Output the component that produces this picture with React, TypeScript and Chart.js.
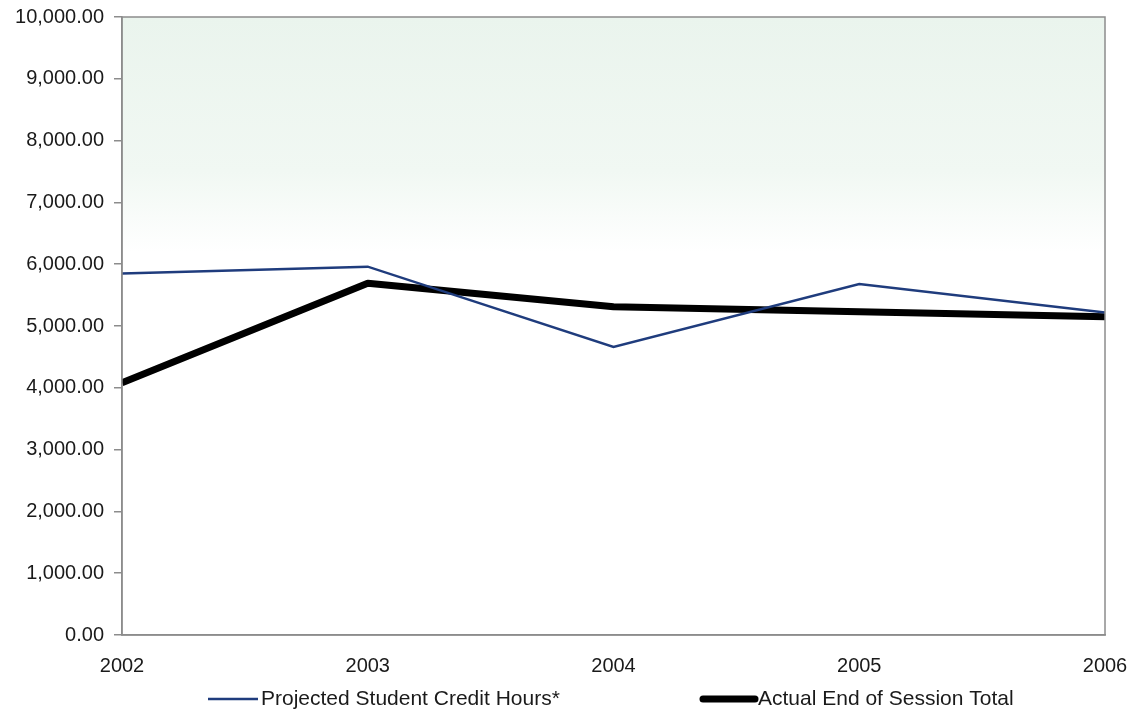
import React, { useEffect, useRef } from "react";
import { Chart, registerables } from "chart.js";

Chart.register(...registerables);

const years = ["2002", "2003", "2004", "2005", "2006"];
const projected = [5850, 5960, 4660, 5680, 5220];
const actual = [4080, 5690, 5310, 5230, 5150];
const seriesNames = ["Projected Student Credit Hours*", "Actual End of Session Total"];
const yTicks = [0, 1000, 2000, 3000, 4000, 5000, 6000, 7000, 8000, 9000, 10000];

const FONT = "'Liberation Sans', Arial, sans-serif";
const AXIS = "#8c8c8c";
const TEXT = "#1a1a1a";

const bgPlugin = {
  id: "bgPlugin",
  beforeDraw(chart: any) {
    const { ctx, chartArea: a } = chart;
    ctx.save();
    const g = ctx.createLinearGradient(0, a.top, 0, a.bottom);
    g.addColorStop(0, "#eaf4ed");
    g.addColorStop(0.25, "#f1f8f3");
    g.addColorStop(0.38, "#ffffff");
    g.addColorStop(1, "#ffffff");
    ctx.fillStyle = g;
    ctx.fillRect(a.left, a.top, a.right - a.left, a.bottom - a.top);
    ctx.restore();
  },
  afterDraw(chart: any) {
    const { ctx, chartArea: a } = chart;
    ctx.save();
    ctx.strokeStyle = AXIS;
    ctx.lineWidth = 1.5;
    ctx.strokeRect(a.left, a.top, a.right - a.left, a.bottom - a.top);
    // legend
    const items = [
      { x: a.left + 86, color: "#1f3c7d", width: 2.5, len: 50, cap: "butt" },
      { x: a.left + 581, color: "#000000", width: 7, len: 52, cap: "round" },
    ];
    const y = 699;
    ctx.font = `21px ${FONT}`;
    ctx.textBaseline = "middle";
    ctx.fillStyle = TEXT;
    items.forEach((it, i) => {
      ctx.beginPath();
      ctx.strokeStyle = it.color;
      ctx.lineWidth = it.width;
      ctx.lineCap = it.cap as CanvasLineCap;
      ctx.moveTo(it.x, y);
      ctx.lineTo(it.x + it.len, y);
      ctx.stroke();
      ctx.fillText(seriesNames[i], it.x + it.len + 3, y);
    });
    ctx.restore();
  },
};

export default function App() {
  const ref = useRef<HTMLCanvasElement>(null);
  useEffect(() => {
    document.body.style.margin = "0";
    const chart = new Chart(ref.current!, {
      type: "line",
      data: {
        labels: years,
        datasets: [
          {
            label: seriesNames[0],
            data: projected,
            borderColor: "#1f3c7d",
            borderWidth: 2.5,
            pointRadius: 0,
            tension: 0,
            clip: 0,
          },
          {
            label: seriesNames[1],
            data: actual,
            borderColor: "#000000",
            borderWidth: 7,
            pointRadius: 0,
            tension: 0,
            borderJoinStyle: "round",
            clip: 0,
          },
        ],
      },
      options: {
        responsive: false,
        animation: false,
        layout: { padding: { top: 17, right: 24, left: 0, bottom: 0 } },
        plugins: { legend: { display: false }, title: { display: false }, tooltip: { enabled: false } },
        scales: {
          x: {
            type: "category",
            offset: false,
            grid: { display: true, drawOnChartArea: false, drawTicks: false, color: "transparent" },
            border: { display: true, color: AXIS, width: 1.5 },
            ticks: { color: TEXT, font: { family: FONT, size: 20 }, padding: 19, maxRotation: 0 },
            afterFit(scale: any) {
              scale.height = 76;
              scale.paddingLeft = 0;
              scale.paddingRight = 0;
            },
          },
          y: {
            min: 0,
            max: 10000,
            afterBuildTicks(scale: any) {
              scale.ticks = yTicks.map((v) => ({ value: v }));
            },
            grid: { display: true, drawOnChartArea: false, drawTicks: true, tickLength: 8, color: AXIS, lineWidth: 1.5 },
            border: { display: true, color: AXIS, width: 1.5 },
            ticks: {
              color: TEXT,
              font: { family: FONT, size: 20 },
              padding: 10,
              callback: (v: any) =>
                Number(v).toLocaleString("en-US", { minimumFractionDigits: 2, maximumFractionDigits: 2 }),
            },
            afterFit(scale: any) {
              scale.width = 122;
              scale.paddingTop = 0;
              scale.paddingBottom = 0;
            },
          },
        },
      },
      plugins: [bgPlugin],
    });
    return () => chart.destroy();
  }, []);
  return (
    <div style={{ width: 1129, height: 711 }}>
      <canvas ref={ref} width={1129} height={711} style={{ display: "block" }} />
    </div>
  );
}
